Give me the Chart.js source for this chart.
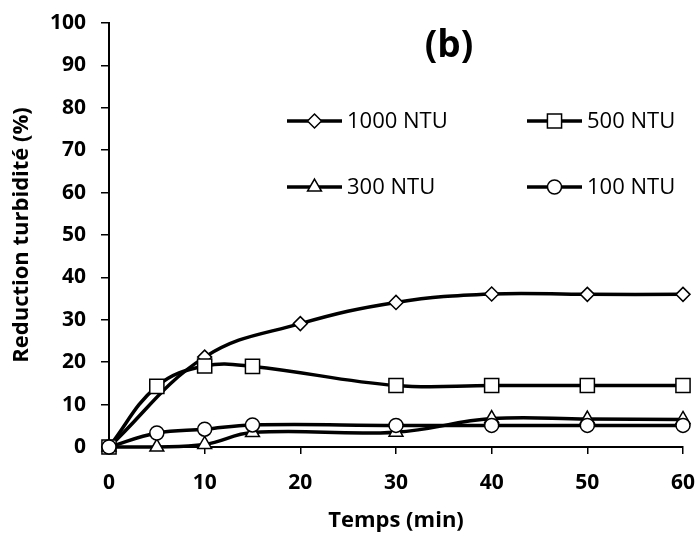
<!DOCTYPE html>
<html>
<head>
<meta charset="utf-8">
<title>Reduction turbidité</title>
<script src="https://cdn.jsdelivr.net/npm/chart.js@4.4.1/dist/chart.umd.min.js"></script>
<style>
  html, body { margin: 0; padding: 0; background: #fff; }
  #wrap { width: 697px; height: 534px; }
</style>
</head>
<body>
<div id="wrap"><canvas id="chart" width="697" height="534"></canvas></div>
<script>
// ---- data ----
const seriesNames = ["1000 NTU", "500 NTU", "300 NTU", "100 NTU"];

const time1000 = [0, 10, 20, 30, 40, 50, 60];
const red1000  = [0, 21.2, 29.1, 34.1, 36.1, 36.0, 36.0];

const time500 = [0, 5, 10, 15, 30, 40, 50, 60];
const red500  = [0, 14.3, 19.1, 19.0, 14.5, 14.5, 14.5, 14.5];

const time300 = [0, 5, 10, 15, 30, 40, 50, 60];
const red300  = [0, 0, 0.6, 3.4, 3.5, 6.7, 6.6, 6.5];

const time100 = [0, 5, 10, 15, 30, 40, 50, 60];
const red100  = [0, 3.3, 4.2, 5.2, 5.1, 5.1, 5.1, 5.1];

const xTicks = [0, 10, 20, 30, 40, 50, 60];
const yTicks = [0, 10, 20, 30, 40, 50, 60, 70, 80, 90, 100];

const FONT = "'Open Sans', 'DejaVu Sans', sans-serif";

function toPoints(xs, ys) {
  return xs.map((x, i) => ({ x: x, y: ys[i] }));
}

function makeSeries(label, xs, ys, style, radius, order) {
  return {
    label: label,
    data: toPoints(xs, ys),
    borderColor: "#000",
    borderWidth: 3.5,
    pointStyle: style,
    pointRadius: radius,
    pointHoverRadius: radius,
    pointBackgroundColor: "#fff",
    pointBorderColor: "#000",
    pointBorderWidth: 1.5,
    tension: 0.4,
    fill: false,
    clip: false,
    order: order
  };
}

const datasets = [
  makeSeries(seriesNames[0], time1000, red1000, "rectRot", 7, 3),
  makeSeries(seriesNames[1], time500, red500, "rect", 10, 2),
  makeSeries(seriesNames[2], time300, red300, "triangle", 8, 1),
  makeSeries(seriesNames[3], time100, red100, "circle", 7, 0)
];

// marker used in the hand-placed legend
function drawMarker(ctx, style, x, y, r) {
  ctx.beginPath();
  if (style === "rectRot") {
    ctx.moveTo(x - r, y); ctx.lineTo(x, y - r); ctx.lineTo(x + r, y); ctx.lineTo(x, y + r);
    ctx.closePath();
  } else if (style === "rect") {
    const s = r * Math.SQRT1_2;
    ctx.rect(x - s, y - s, 2 * s, 2 * s);
  } else if (style === "triangle") {
    ctx.moveTo(x, y - r);
    ctx.lineTo(x + r * Math.sin(2 * Math.PI / 3), y - r * Math.cos(2 * Math.PI / 3));
    ctx.lineTo(x + r * Math.sin(4 * Math.PI / 3), y - r * Math.cos(4 * Math.PI / 3));
    ctx.closePath();
  } else {
    ctx.arc(x, y, r, 0, Math.PI * 2);
  }
  ctx.fillStyle = "#fff";
  ctx.fill();
  ctx.lineWidth = 1.5;
  ctx.strokeStyle = "#000";
  ctx.stroke();
}

// legend in two columns inside the plot, plus the "(b)" label
const overlay = {
  id: "overlay",
  afterDraw(chart) {
    const ctx = chart.ctx;
    const spots = [
      { x: 287, y: 121 }, { x: 527, y: 121 },
      { x: 287, y: 187 }, { x: 527, y: 187 }
    ];
    ctx.save();
    chart.data.datasets.forEach((ds, i) => {
      const p = spots[i];
      ctx.beginPath();
      ctx.moveTo(p.x, p.y);
      ctx.lineTo(p.x + 55, p.y);
      ctx.lineWidth = 3.5;
      ctx.strokeStyle = "#000";
      ctx.stroke();
      drawMarker(ctx, ds.pointStyle, p.x + 27.5, p.y, ds.pointRadius);
      ctx.fillStyle = "#000";
      ctx.font = "22px " + FONT;
      ctx.textAlign = "left";
      ctx.textBaseline = "middle";
      ctx.fillText(ds.label, p.x + 60, p.y + 1);
    });
    ctx.font = "bold 37px " + FONT;
    ctx.textAlign = "center";
    ctx.textBaseline = "middle";
    ctx.fillText("(b)", 449, 46);
    ctx.restore();
  }
};

new Chart(document.getElementById("chart"), {
  type: "line",
  data: { datasets: datasets },
  options: {
    responsive: false,
    animation: false,
    layout: { padding: { top: 23, right: 14, left: 0, bottom: 0 } },
    plugins: {
      legend: { display: false },
      tooltip: { enabled: false }
    },
    scales: {
      x: {
        type: "linear",
        min: 0,
        max: 60,
        afterBuildTicks: (s) => { s.ticks = xTicks.map(v => ({ value: v })); },
        afterFit: (s) => { s.height = 87; s.paddingLeft = 0; s.paddingRight = 0; },
        ticks: { color: "#000", font: { family: FONT, size: 21, weight: "bold" }, padding: 16 },
        grid: { drawOnChartArea: false, drawTicks: true, tickLength: 7, color: "#000", lineWidth: 1.5 },
        border: { color: "#000", width: 2 },
        title: {
          display: true, text: "Temps (min)", color: "#000",
          font: { family: FONT, size: 22, weight: "bold" }, padding: { top: 0, bottom: 0 }
        }
      },
      y: {
        min: 0,
        max: 100,
        afterBuildTicks: (s) => { s.ticks = yTicks.map(v => ({ value: v })); },
        afterFit: (s) => { s.width = 109; s.paddingTop = 0; s.paddingBottom = 0; },
        ticks: { color: "#000", font: { family: FONT, size: 21, weight: "bold" }, padding: 15 },
        grid: { drawOnChartArea: false, drawTicks: true, tickLength: 8, color: "#000", lineWidth: 1.5 },
        border: { color: "#000", width: 2 },
        title: {
          display: true, text: "Reduction turbidité (%)", color: "#000",
          font: { family: FONT, size: 22, weight: "bold" }, padding: { top: 9, bottom: 0 }
        }
      }
    }
  },
  plugins: [overlay]
});
</script>
</body>
</html>
